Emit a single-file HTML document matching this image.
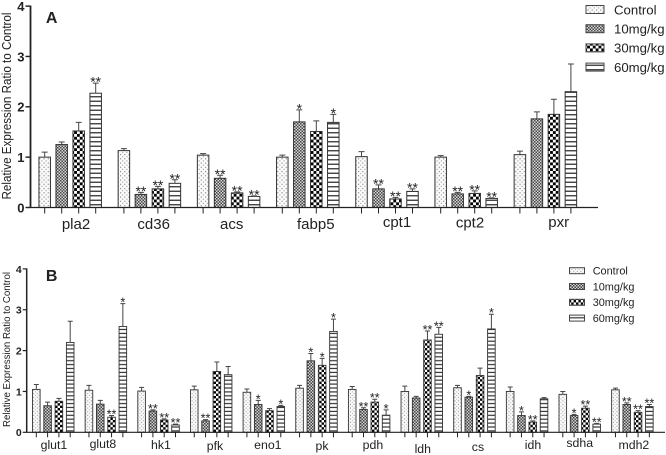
<!DOCTYPE html>
<html lang="en">
<head>
<meta charset="utf-8">
<title>Relative Expression Ratio to Control</title>
<style>
html,body{margin:0;padding:0;background:#fff;width:666px;height:455px;overflow:hidden}
svg{display:block;font-family:"Liberation Sans",sans-serif}
text{fill:#222}
</style>
</head>
<body>
<svg id="figure" xmlns="http://www.w3.org/2000/svg" width="666" height="455" viewBox="0 0 666 455">
<defs>
<filter id="soft" x="-2%" y="-2%" width="104%" height="104%"><feGaussianBlur stdDeviation="0.33"/></filter>
<pattern id="p0-a" width="4.25" height="4.25" patternUnits="userSpaceOnUse"><rect width="4.25" height="4.25" fill="#fbfbfb"/><rect x="1" y="1" width="1.1" height="1.1" fill="#777"/><rect x="3.1" y="3.1" width="1.1" height="1.1" fill="#999"/></pattern>
<pattern id="p1-a" width="3" height="3" patternUnits="userSpaceOnUse"><rect width="3" height="3" fill="#d8d8d8"/><rect width="1.5" height="1.5" fill="#444"/><rect x="1.5" y="1.5" width="1.5" height="1.5" fill="#444"/></pattern>
<pattern id="p2-a" width="5.7" height="5.7" patternUnits="userSpaceOnUse"><rect width="5.7" height="5.7" fill="#fff"/><rect width="2.85" height="2.85" fill="#000"/><rect x="2.85" y="2.85" width="2.85" height="2.85" fill="#000"/></pattern>
<pattern id="p3-a" width="4.5" height="4.5" patternUnits="userSpaceOnUse"><rect width="4.5" height="4.5" fill="#fff"/><rect y="1.6" width="4.5" height="1.3" fill="#333"/></pattern>
<pattern id="p0-b" width="3.6" height="3.6" patternUnits="userSpaceOnUse"><rect width="3.6" height="3.6" fill="#fbfbfb"/><rect x=".8" y=".8" width="1" height="1" fill="#888"/><rect x="2.6" y="2.6" width="1" height="1" fill="#aaa"/></pattern>
<pattern id="p1-b" width="3" height="3" patternUnits="userSpaceOnUse"><rect width="3" height="3" fill="#d0d0d0"/><rect width="1.5" height="1.5" fill="#444"/><rect x="1.5" y="1.5" width="1.5" height="1.5" fill="#444"/></pattern>
<pattern id="p2-b" width="4.8" height="4.8" patternUnits="userSpaceOnUse"><rect width="4.8" height="4.8" fill="#fff"/><rect width="2.4" height="2.4" fill="#000"/><rect x="2.4" y="2.4" width="2.4" height="2.4" fill="#000"/></pattern>
<pattern id="p3-b" width="3.9" height="3.9" patternUnits="userSpaceOnUse"><rect width="3.9" height="3.9" fill="#fff"/><rect y="1.3" width="3.9" height="1.2" fill="#333"/></pattern>
</defs>
<g id="root" filter="url(#soft)"></g>
</svg>
<script>
const seriesNames = ["Control", "10mg/kg", "30mg/kg", "60mg/kg"];
const yTicks = [0, 1, 2, 3, 4];

const genesA = ["pla2", "cd36", "acs", "fabp5", "cpt1", "cpt2", "pxr"];
const controlA = [1.0, 1.13, 1.04, 1.0, 1.01, 1.0, 1.05];
const mg10A = [1.25, 0.26, 0.58, 1.7, 0.37, 0.27, 1.76];
const mg30A = [1.52, 0.37, 0.29, 1.51, 0.17, 0.28, 1.85];
const mg60A = [2.27, 0.48, 0.22, 1.69, 0.32, 0.18, 2.3];
const controlTopA = [1.1, 1.17, 1.07, 1.04, 1.11, 1.03, 1.12];
const mg10TopA = [1.3, 0.3, 0.64, 1.94, 0.45, 0.3, 1.9];
const mg30TopA = [1.69, 0.42, 0.31, 1.72, 0.2, 0.33, 2.15];
const mg60TopA = [2.47, 0.55, 0.23, 1.85, 0.37, 0.19, 2.85];
const sig10A = [0, 2, 2, 1, 2, 2, 0];
const sig30A = [0, 2, 2, 0, 2, 2, 0];
const sig60A = [2, 2, 2, 1, 2, 2, 0];

const genesB = ["glut1", "glut8", "hk1", "pfk", "eno1", "pk", "pdh", "ldh", "cs", "idh", "sdha", "mdh2"];
const controlB = [1.05, 1.03, 1.01, 1.04, 0.98, 1.08, 1.05, 1.0, 1.09, 1.0, 0.93, 1.04];
const mg10B = [0.65, 0.69, 0.52, 0.28, 0.68, 1.75, 0.56, 0.84, 0.86, 0.41, 0.41, 0.68];
const mg30B = [0.76, 0.37, 0.3, 1.49, 0.53, 1.64, 0.74, 2.26, 1.39, 0.25, 0.59, 0.49];
const mg60B = [2.2, 2.59, 0.18, 1.41, 0.63, 2.47, 0.42, 2.4, 2.53, 0.82, 0.2, 0.63];
const controlTopB = [1.17, 1.15, 1.1, 1.13, 1.06, 1.15, 1.12, 1.13, 1.15, 1.11, 1.0, 1.08];
const mg10TopB = [0.74, 0.78, 0.55, 0.31, 0.78, 1.93, 0.6, 0.88, 0.88, 0.5, 0.44, 0.72];
const mg30TopB = [0.83, 0.41, 0.33, 1.72, 0.58, 1.81, 0.81, 2.48, 1.57, 0.28, 0.64, 0.53];
const mg60TopB = [2.72, 3.15, 0.2, 1.61, 0.66, 2.77, 0.55, 2.57, 2.89, 0.85, 0.22, 0.68];
const sig10B = [0, 0, 2, 2, 1, 1, 2, 0, 1, 1, 1, 2];
const sig30B = [0, 2, 2, 0, 0, 1, 2, 2, 0, 2, 2, 2];
const sig60B = [0, 1, 2, 0, 1, 1, 1, 2, 1, 0, 2, 2];

const NS = "http://www.w3.org/2000/svg";
const root = document.getElementById("root");

function make(tag, attrs, parent, txt) {
  const el = document.createElementNS(NS, tag);
  for (const k in attrs) el.setAttribute(k, attrs[k]);
  if (txt !== undefined) el.textContent = txt;
  parent.appendChild(el);
  return el;
}

function drawPanel(cfg) {
  const y = v => cfg.y0 - v * cfg.unit;
  const groupX = i => cfg.x0 + cfg.groupStep * i;
  const barX = (i, j) => groupX(i) + cfg.barStep * j;

  const panel = make("g", {}, root);
  
  

  cfg.series.forEach((vals, j) => {
    const sg = make("g", {}, panel);
    
    
    vals.forEach((v, i) => {
      const cx = barX(i, j);
      const top = cfg.tops[j][i];
      const bar = make("rect", {x: cx - cfg.barW / 2, y: y(v), width: cfg.barW, height: v * cfg.unit,
        fill: "url(#p" + j + "-" + cfg.key + ")", stroke: "#333", "stroke-width": cfg.barStroke}, sg);
      
      
      const err = make("path", {d: "M" + cx + " " + y(v) + "V" + y(top) + "M" + (cx - cfg.cap) + " " + y(top) + "H" + (cx + cfg.cap),
        stroke: "#444", "stroke-width": cfg.errStroke, fill: "none"}, sg);
      
      
      const n = j === 0 ? 0 : cfg.sig[j - 1][i];
      if (n > 0) {
        const star = make("text", {x: cx, y: y(top) + cfg.starDy, "text-anchor": "middle", "font-size": cfg.starSize}, sg, "*".repeat(n));
        
        
      }
    });
  });

  const yAxis = make("line", {x1: cfg.axisX, x2: cfg.axisX, y1: y(4) - .5, y2: cfg.y0 + .5, stroke: "#222", "stroke-width": cfg.axisW}, panel);
  
  
  const xAxis = make("line", {x1: cfg.axisX, x2: cfg.axisEnd, y1: cfg.y0, y2: cfg.y0, stroke: "#222", "stroke-width": cfg.xAxisW}, panel);
  
  

  yTicks.forEach(t => {
    const tick = make("line", {x1: cfg.axisX - cfg.tickLen, x2: cfg.axisX, y1: y(t), y2: y(t), stroke: "#222", "stroke-width": cfg.axisW * .8}, panel);
    
    
    const lab = make("text", {x: cfg.axisX - cfg.tickLen - 1, y: y(t) + cfg.tickFont * .37, "text-anchor": "end", "font-size": cfg.tickFont, "font-weight": "bold"}, panel, String(t));
    
    
  });

  cfg.genes.forEach((g, i) => {
    for (let j = 0; j < 4; j++) {
      const tk = make("line", {x1: barX(i, j), x2: barX(i, j), y1: cfg.y0, y2: cfg.y0 + cfg.xTick, stroke: "#222", "stroke-width": 1}, panel);
      
      
    }
    const lab = make("text", {x: groupX(i) + cfg.barStep * 1.5 + cfg.labelDx[i], y: cfg.labelY[i], "text-anchor": "middle", "font-size": cfg.labelFont}, panel, g);
    
    
  });

  const title = make("text", {transform: "translate(" + cfg.titleX + " " + cfg.titleY + ") rotate(-90)", "text-anchor": "middle",
    "font-size": cfg.titleFont, textLength: cfg.titleLen, lengthAdjust: "spacingAndGlyphs", fill: "#333"}, panel, "Relative Expression Ratio to Control");
  
  

  const letter = make("text", {x: 51.7, y: cfg.letterY, "text-anchor": "middle", "font-size": 16, "font-weight": "bold", fill: "#111"}, panel, cfg.letter);
  
  

  seriesNames.forEach((s, j) => {
    const cy = cfg.legY + cfg.legStep * j;
    const entry = make("g", {}, panel);
    
    
    const sw = make("rect", {x: cfg.legX, y: cy - cfg.legH / 2, width: cfg.legW, height: cfg.legH,
      fill: "url(#p" + j + "-" + cfg.key + ")", stroke: "#444", "stroke-width": 1}, entry);
    
    
    const tx = make("text", {x: cfg.legTextX, y: cy + cfg.legFont * .36, "font-size": cfg.legFont, fill: "#333"}, entry, s);
    
    
  });
}

drawPanel({
  key: "a", name: "panel-a", letter: "A", letterY: 23,
  genes: genesA,
  series: [controlA, mg10A, mg30A, mg60A],
  tops: [controlTopA, mg10TopA, mg30TopA, mg60TopA],
  sig: [sig10A, sig30A, sig60A],
  y0: 207.5, unit: 50.35, x0: 44.7, groupStep: 79.2, barStep: 17, barW: 11.5,
  barStroke: 1, errStroke: 1, cap: 3, starDy: 3.5, starSize: 14,
  axisX: 30.5, axisEnd: 598, axisW: 1.8, xAxisW: 1.3, tickLen: 5, tickFont: 13, xTick: 6,
  labelDx: [5.8, 4.3, 3.1, 8, 10, 3.8, 13.3],
  labelY: [229, 229, 229, 229, 227, 227.5, 227], labelFont: 15,
  titleX: 11, titleY: 106, titleFont: 12.5, titleLen: 187,
  legX: 586, legW: 18, legH: 8, legY: 9.5, legStep: 19.2, legTextX: 614, legFont: 13.2
});

drawPanel({
  key: "b", name: "panel-b", letter: "B", letterY: 281,
  genes: genesB,
  series: [controlB, mg10B, mg30B, mg60B],
  tops: [controlTopB, mg10TopB, mg30TopB, mg60TopB],
  sig: [sig10B, sig30B, sig60B],
  y0: 432.3, unit: 40.85, x0: 36.3, groupStep: 52.65, barStep: 11.3, barW: 7.6,
  barStroke: .9, errStroke: 1, cap: 2.5, starDy: 3, starSize: 12.5,
  axisX: 26.7, axisEnd: 665, axisW: 1.5, xAxisW: 1.2, tickLen: 4, tickFont: 10.5, xTick: 5,
  labelDx: [.7, -3, 2.4, 3.75, 4, 5.5, 3.8, 1, 3.5, 5.9, 0, 1.5],
  labelY: [449, 448, 449, 450, 449, 450, 449, 453, 451, 449, 447, 449], labelFont: 12.3,
  titleX: 10, titleY: 349.5, titleFont: 10.5, titleLen: 155,
  legX: 569.5, legW: 15, legH: 6, legY: 270.7, legStep: 15.8, legTextX: 592.7, legFont: 10.9
});
</script>
</body>
</html>
